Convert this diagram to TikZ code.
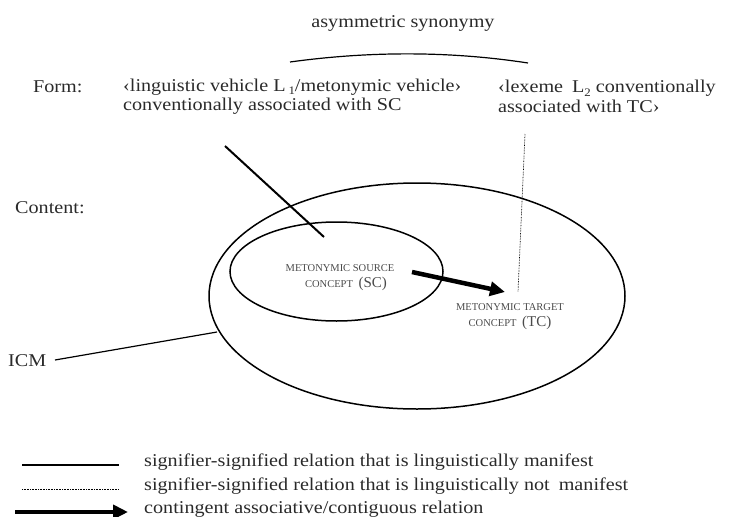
\documentclass[tikz,border=0pt]{standalone}
\usepackage{fontspec}
\setmainfont[FakeStretch=1.12]{Liberation Serif}
\newfontfamily\capsfont{Liberation Serif}
\usetikzlibrary{arrows.meta}
\newcommand\lsub[1]{\raisebox{-0.4ex}{\fontsize{11.5}{11.5}\selectfont #1}}
\definecolor{ink}{HTML}{2A2A2A}
\definecolor{capink}{HTML}{4A4A4A}
\tikzset{
  txt/.style={inner sep=0pt, text=ink, font=\fontsize{18}{19.5}\selectfont},
  caps/.style={inner sep=0pt, text=capink, align=center, font=\capsfont\fontsize{10.5}{16}\selectfont},
  solidrel/.style={draw=black, line width=2pt},
  dotrel/.style={draw=black, line width=0.7pt, dash pattern=on 0.7pt off 0.9pt},
  assoc/.style={draw=black, line width=4.5pt, -{Triangle[length=15pt,width=14pt]}},
  thin/.style={draw=black, line width=1.2pt},
  ell/.style={draw=black, line width=1.5pt}
}
\begin{document}
\begin{tikzpicture}[x=1pt,y=-1pt]
\useasboundingbox (0,0) rectangle (729,517);
% texts
\node[txt] (title) at (403,23) {asymmetric synonymy};
\node[txt, anchor=west] (form) at (33,87) {Form:};
\node[txt, anchor=west, align=left] (formL) at (123,96.5)
  {‹linguistic vehicle L\,\lsub{1}/metonymic vehicle›\\conventionally associated with SC};
\node[txt, anchor=west, align=left] (formR) at (498,96.5)
  {‹lexeme\enspace L\lsub{2} conventionally\\associated with TC›};
\node[txt, anchor=west] (content) at (15,208) {Content:};
\node[txt, anchor=west] (icm) at (8,361) {ICM};
% arc over the forms
\coordinate (arcL) at (290,62);
\coordinate (arcR) at (528,63);
\draw[thin] (arcL) .. controls (370,51) and (450,51) .. (arcR);
% ellipses
\draw[ell] (417,296) ellipse [x radius=208pt, y radius=113pt];
\draw[ell] (336.5,271.5) ellipse [x radius=106.5pt, y radius=49.5pt];
\node[caps] (sc) at (340,278) {METONYMIC SOURCE\\\hspace*{12pt}CONCEPT\; {\fontsize{15}{16}\selectfont(SC)}};
\node[caps] (tc) at (510,317) {METONYMIC TARGET\\CONCEPT\; {\fontsize{15}{16}\selectfont(TC)}};
% connectors
\coordinate (s1) at (225,146);
\coordinate (s2) at (324,237);
\draw[solidrel] (s1) -- (s2);
\coordinate (d1) at (525,134);
\coordinate (d2) at (518,292);
\draw[dotrel] (d1) -- (d2);
\coordinate (r1) at (412,272);
\coordinate (r2) at (505,292);
\draw[assoc] (r1) -- (r2);
\coordinate (i1) at (55,360);
\coordinate (i2) at (217,332);
\draw[thin] (i1) -- (i2);
% legend
\coordinate (l1a) at (22,465); \coordinate (l1b) at (119,465);
\coordinate (l2a) at (22,489); \coordinate (l2b) at (119,489);
\coordinate (l3a) at (15,512); \coordinate (l3b) at (128,512);
\draw[solidrel, line width=2.5pt] (l1a) -- (l1b);
\draw[dotrel] (l2a) -- (l2b);
\draw[assoc] (l3a) -- (l3b);
\node[txt, anchor=west] (lg1) at (144,462) {signifier-signified relation that is linguistically manifest};
\node[txt, anchor=west] (lg2) at (144,486) {signifier-signified relation that is linguistically not\enspace manifest};
\node[txt, anchor=west] (lg3) at (144,509) {contingent associative/contiguous relation};
\end{tikzpicture}
\end{document}
